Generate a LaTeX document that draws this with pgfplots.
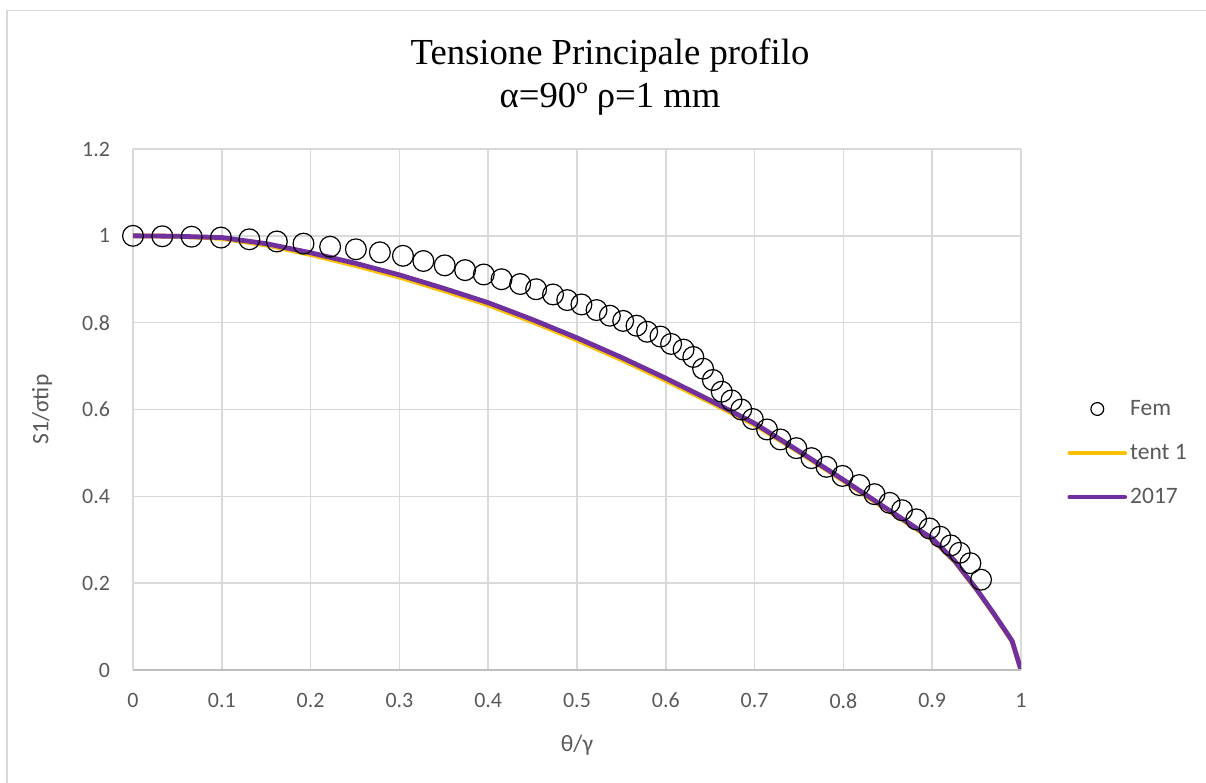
\documentclass[border=0pt]{standalone}
\usepackage{pgfplots}
\pgfplotsset{compat=1.18}
\usepackage{pgfplotstable}
\usepackage{fontspec}
\setmainfont{Carlito}
\newfontfamily\titlefont{Liberation Serif}

\definecolor{tentc}{HTML}{FFC000}
\definecolor{nuovoc}{HTML}{7030A0}
\definecolor{gridc}{HTML}{D9D9D9}
\definecolor{axisc}{HTML}{BFBFBF}
\definecolor{txt}{HTML}{595959}

% FEM results
\pgfplotstableread{
x y
0.000 1.000
0.033 0.999
0.066 0.998
0.099 0.996
0.131 0.992
0.162 0.987
0.192 0.982
0.222 0.975
0.251 0.969
0.278 0.962
0.304 0.954
0.327 0.942
0.351 0.932
0.374 0.921
0.395 0.911
0.415 0.900
0.436 0.889
0.454 0.877
0.473 0.865
0.489 0.852
0.505 0.842
0.522 0.829
0.537 0.816
0.552 0.804
0.567 0.793
0.579 0.779
0.594 0.768
0.606 0.751
0.620 0.738
0.631 0.721
0.642 0.694
0.653 0.668
0.663 0.641
0.674 0.621
0.685 0.600
0.698 0.578
0.714 0.554
0.729 0.531
0.747 0.511
0.764 0.488
0.781 0.468
0.799 0.447
0.818 0.426
0.835 0.405
0.852 0.385
0.866 0.368
0.882 0.347
0.897 0.326
0.909 0.307
0.921 0.287
0.931 0.270
0.943 0.246
0.955 0.208
}\fem

% tentativo 1
\pgfplotstableread{
x y
0.00 1.000
0.05 0.999
0.10 0.994
0.15 0.979
0.20 0.957
0.25 0.932
0.30 0.905
0.35 0.874
0.40 0.841
0.45 0.802
0.50 0.760
0.55 0.715
0.60 0.667
0.65 0.617
0.70 0.565
0.75 0.502
0.80 0.436
0.85 0.368
0.90 0.301
0.925 0.251
0.95 0.185
0.97 0.127
0.99 0.066
1.00 0.000
}\tent

% modello 2017
\pgfplotstableread{
x y
0.00 1.000
0.05 0.999
0.10 0.996
0.15 0.982
0.20 0.961
0.25 0.937
0.30 0.910
0.35 0.879
0.40 0.846
0.45 0.807
0.50 0.765
0.55 0.720
0.60 0.672
0.65 0.621
0.70 0.568
0.75 0.504
0.80 0.438
0.85 0.370
0.90 0.303
0.925 0.252
0.95 0.186
0.97 0.128
0.99 0.067
1.00 0.000
}\nuovo

\pgfplotsset{
  linelegend/.style={legend image code/.code={\draw[##1, line cap=round] (0bp,0bp) -- (27.5bp,0bp);}},
  marklegend/.style={legend image code/.code={\path[draw=none, fill=none] (0bp,0bp) -- (27.5bp,0bp);
    \draw[black, line width=0.6bp, fill=none] (13.75bp,0bp) circle (3.2bp);}},
}

\begin{document}
\begin{tikzpicture}
\path[use as bounding box] (-66.5bp,-56.5bp) rectangle (536.5bp,335bp);
\draw[gridc, line width=0.8bp] (-63bp,-60bp) -- (-63bp,329.75bp) -- (540bp,329.75bp);
\begin{axis}[
  at={(0,0)}, anchor=south west, scale only axis,
  width=444bp, height=260.5bp,
  xmin=0, xmax=1, ymin=0, ymax=1.2,
  xtick={0,0.1,0.2,0.3,0.4,0.5,0.6,0.7,0.8,0.9,1},
  ytick={0,0.2,0.4,0.6,0.8,1,1.2},
  grid=major, major grid style={gridc, line width=0.75bp},
  axis line style={draw=none}, tick style={draw=none},
  /pgf/number format/assume math mode=true,
  ticklabel style={font=\fontsize{11}{13}\selectfont, text=txt},
  xticklabel style={yshift=-8bp}, yticklabel style={xshift=-8bp},
  label style={font=\fontsize{11.8}{14}\selectfont, text=txt},
  xlabel={θ/γ}, ylabel={S1/σtip},
  xlabel style={at={(axis description cs:0.5,-0.144)}, anchor=center},
  ylabel style={at={(axis description cs:-0.1025,0.5)}, anchor=center},
  legend style={at={(axis description cs:1.0518,0.4165)}, anchor=west,
    draw=none, fill=none, inner sep=0pt, row sep=11bp,
    font=\fontsize{11.8}{14}\selectfont, text=txt,
    nodes={inner xsep=1.5bp, inner ysep=0pt, text height=8.5bp, text depth=2.5bp}},
  legend cell align=left,
]
\addlegendimage{marklegend}
\addlegendentry{Fem}
\addplot[tentc, line width=2.4bp, line join=round, linelegend] table {\tent};
\addlegendentry{tent 1}
\addplot[nuovoc, line width=2.4bp, line join=round, linelegend] table {\nuovo};
\addlegendentry{2017}
\addplot[only marks, mark=o, mark size=5.2bp, black, mark options={line width=0.6bp}, forget plot] table {\fem};
\draw[axisc, line width=0.8bp] (rel axis cs:0,0) -- (rel axis cs:1,0);
\end{axis}
\node[font=\titlefont\fontsize{18.4}{21}\selectfont, anchor=base] at (238.5bp,302.85bp) {Tensione Principale profilo};
\node[font=\titlefont\fontsize{18.4}{21}\selectfont, anchor=base] at (238.5bp,281.15bp) {α=90º ρ=1 mm};
\end{tikzpicture}
\end{document}
